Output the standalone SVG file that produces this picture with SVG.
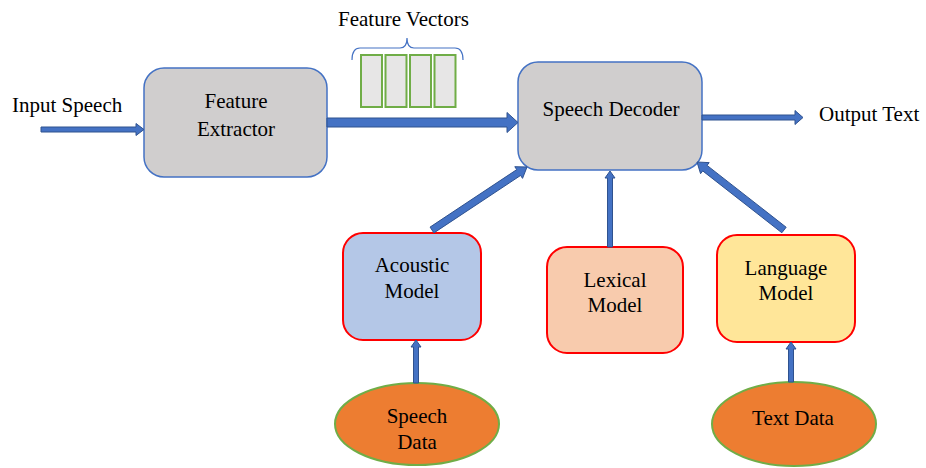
<svg xmlns="http://www.w3.org/2000/svg" width="926" height="468" viewBox="0 0 926 468">
<style>
.t{font-size:21px;fill:#000}
.c{text-anchor:middle}
.proc{fill:#D0CECE;stroke:#4472C4;stroke-width:1.5}
.model{stroke:#FF0000;stroke-width:2}
.data{fill:#ED7D31;stroke:#70AD47;stroke-width:2}
.vec{fill:#E7E6E6;stroke:#70AD47;stroke-width:2}
.arr{fill:#4472C4;stroke:#2F528F;stroke-width:1;stroke-linejoin:miter}
</style>
<rect width="926" height="468" fill="#fff"/>
<g font-family="'Liberation Serif', 'Times New Roman', Times, serif">
<g id="input-speech"><text class="t" x="12" y="112">Input Speech</text></g>
<g id="output-text"><text class="t" x="819" y="121">Output Text</text></g>
<g id="feature-vectors">
<text class="t" x="338" y="26">Feature Vectors</text>
<path d="M352,60 Q352,48 360,48 L400,48 Q407,48 407,38 Q407,48 414,48 L455,48 Q463,48 463,60" fill="none" stroke="#4472C4" stroke-width="1.2"/>
<rect class="vec" x="361" y="55" width="21" height="52"/>
<rect class="vec" x="385.5" y="55" width="21" height="52"/>
<rect class="vec" x="410" y="55" width="21" height="52"/>
<rect class="vec" x="434.5" y="55" width="21" height="52"/>
</g>
<g id="feature-extractor">
<rect class="proc" x="144" y="68" width="183" height="109" rx="20"/>
<text class="t c" x="236" y="108">Feature</text>
<text class="t c" x="236" y="136">Extractor</text>
</g>
<g id="speech-decoder">
<rect class="proc" x="518" y="62" width="184" height="108" rx="20"/>
<text class="t c" x="611" y="116">Speech Decoder</text>
</g>
<g id="acoustic-model">
<rect class="model" x="343" y="233" width="138" height="107" rx="20" fill="#B4C7E7"/>
<text class="t c" x="412" y="272">Acoustic</text>
<text class="t c" x="412" y="298">Model</text>
</g>
<g id="lexical-model">
<rect class="model" x="547" y="247" width="136" height="106" rx="20" fill="#F8CBAD"/>
<text class="t c" x="615" y="287">Lexical</text>
<text class="t c" x="615" y="312">Model</text>
</g>
<g id="language-model">
<rect class="model" x="717" y="235" width="138" height="107" rx="20" fill="#FFE699"/>
<text class="t c" x="786" y="275">Language</text>
<text class="t c" x="786" y="300">Model</text>
</g>
<g id="speech-data">
<ellipse class="data" cx="417" cy="424" rx="82" ry="41"/>
<text class="t c" x="417" y="423">Speech</text>
<text class="t c" x="417" y="449">Data</text>
</g>
<g id="text-data">
<ellipse class="data" cx="794" cy="424" rx="82" ry="42"/>
<text class="t c" x="793" y="425">Text Data</text>
</g>
</g>
<g id="connectors">
<polygon class="arr" points="41,127 136,127 136,123.5 144,129.5 136,135.5 136,132 41,132"/>
<polygon class="arr" points="327,118 507,118 507,112.5 518,122.5 507,132.5 507,127 327,127"/>
<polygon class="arr" points="702,115 795,115 795,110.5 803,117.5 795,124.5 795,120 702,120"/>
<polygon class="arr" points="430.07,227.08 516.74,169.61 514.80,166.70 527,167 522.54,178.36 520.60,175.45 433.93,232.92"/>
<polygon class="arr" points="607.5,247 607.5,178 605,178 610,171 615,178 612.5,178 612.5,247"/>
<polygon class="arr" points="786.16,227.24 707.04,165.40 709.19,162.64 697,162 700.57,173.68 702.72,170.92 781.84,232.76"/>
<polygon class="arr" points="413.5,383 413.5,347 411,347 416,340 421,347 418.5,347 418.5,383"/>
<polygon class="arr" points="788.5,382 788.5,349 786,349 791,342 796,349 793.5,349 793.5,382"/>
</g>
</svg>
